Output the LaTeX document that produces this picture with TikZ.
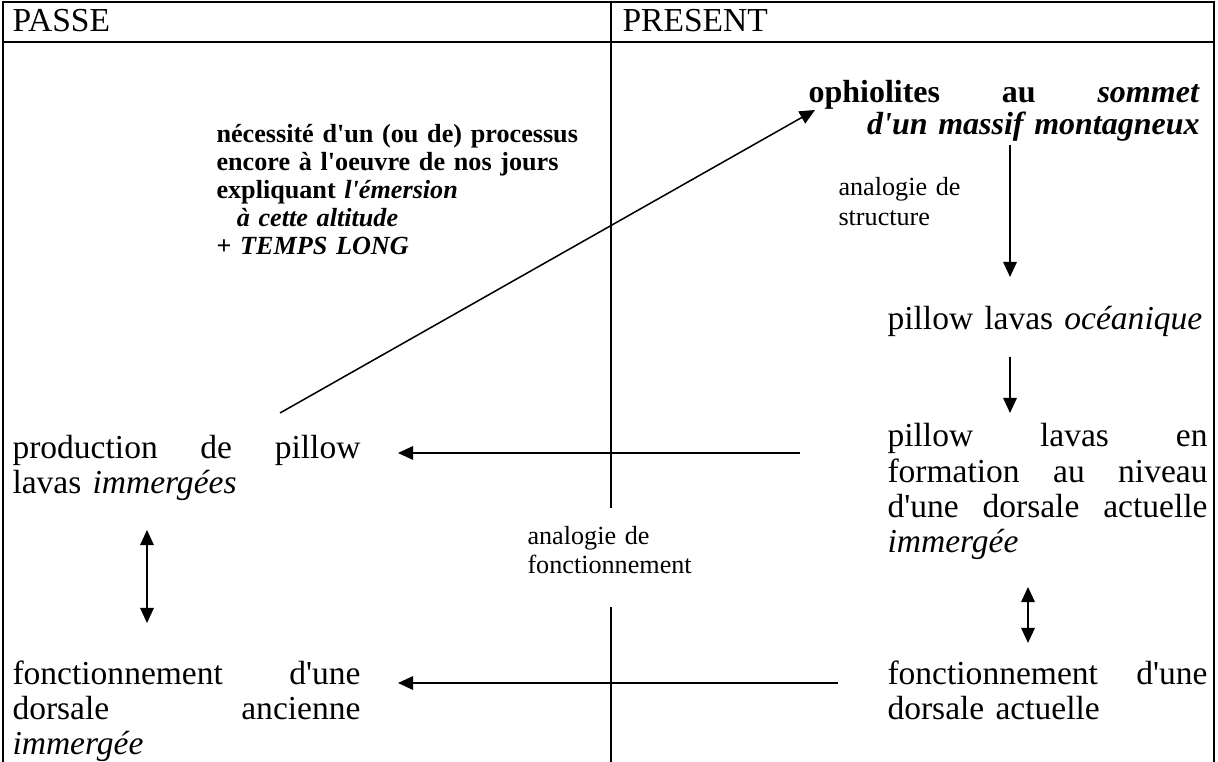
\documentclass[tikz,border=0pt]{standalone}
\usepackage{fontspec}
\setmainfont{Liberation Serif}[Ligatures=TeXOff]
\usetikzlibrary{arrows.meta}

% one line of a block, stretched to the full width with \hfill
\newcommand{\fillline}[1]{\leavevmode\hbox to \hsize{#1}}

\begin{document}
\begin{tikzpicture}[
  x=0.3937pt, y=-0.3937pt,
  >={Triangle[length=6pt,width=5.4pt]},
  rule/.style={line width=0.9pt},
  link/.style={line width=0.6pt},
  txt/.style={inner sep=0pt, anchor=base west, align=left,
    font=\fontsize{13.2}{13.8}\selectfont},
  note/.style={inner sep=0pt, anchor=base west, align=left, text width=165pt,
    font=\fontsize{10.3}{11}\selectfont\bfseries},
  small/.style={inner sep=0pt, anchor=base west, align=left, text width=75pt,
    font=\fontsize{10.3}{11.6}\selectfont}
]
  \useasboundingbox (0,0) rectangle (1218,762);

  % table frame
  \draw[rule] (3,762) -- (3,2) -- (1214,2) -- (1214,762);
  \draw[rule] (3,42) -- (1214,42);
  \draw[rule] (611,2) -- (611,508);
  \draw[rule] (611,607) -- (611,762);

  % headers
  \node[txt] (passe) at (12,32) {PASSE};
  \node[txt] (present) at (622,32) {PRESENT};

  % PRESENT column
  \node[txt, font=\fontsize{12.6}{11.3}\selectfont\bfseries, text width=154pt]
    (ophio) at (808,103)
    {\fillline{ophiolites\hfill au\hfill \textit{sommet}}\\
     \hfill\textit{d'un massif montagneux}};
  \node[small] (struct) at (838,196) {analogie de\\ structure};
  \node[txt, text width=126pt] (ocean) at (887,330) {pillow lavas \textit{océanique}};
  \node[txt, text width=126pt] (form) at (887,447)
    {\fillline{pillow\hfill lavas\hfill en}\\
     \fillline{formation\hfill au\hfill niveau}\\
     \fillline{d'une\hfill dorsale\hfill actuelle}\\ \textit{immergée}};
  \node[txt, text width=126pt] (dnow) at (887,684)
    {\fillline{fonctionnement\hfill d'une}\\ dorsale actuelle};

  % PASSE column
  \node[note] (need) at (216,143)
    {nécessité d'un (ou de) processus\\ encore à l'oeuvre de nos jours\\
     expliquant \textit{l'émersion}\\ \hspace*{8pt}\textit{à cette altitude}\\
     + \textit{TEMPS LONG}};
  \node[txt, text width=137pt] (prod) at (12,458)
    {\fillline{production\hfill de\hfill pillow}\\ lavas \textit{immergées}};
  \node[txt, text width=137pt] (dold) at (12,684)
    {\fillline{fonctionnement\hfill d'une}\\
     \fillline{dorsale\hfill ancienne}\\ \textit{immergée}};
  \node[small] (func) at (527,544) {analogie de\\ fonctionnement};

  % arrow ends
  \coordinate (up0) at (280,413);
  \coordinate (up1) at (815,110);
  \coordinate (s0) at (1010,145);
  \coordinate (s1) at (1010,277);
  \coordinate (o0) at (1010,357);
  \coordinate (o1) at (1010,413);
  \coordinate (r0) at (1028,587);
  \coordinate (r1) at (1028,643);
  \coordinate (l0) at (147,530);
  \coordinate (l1) at (147,623);
  \coordinate (h0) at (800,453);
  \coordinate (h1) at (398,453);
  \coordinate (k0) at (838,683);
  \coordinate (k1) at (398,683);

  \draw[link,->] (up0) -- (up1);
  \draw[link,->] (s0) -- (s1);
  \draw[link,->] (o0) -- (o1);
  \draw[link,<->] (r0) -- (r1);
  \draw[link,<->] (l0) -- (l1);
  \draw[link,->] (h0) -- (h1);
  \draw[link,->] (k0) -- (k1);
\end{tikzpicture}
\end{document}
